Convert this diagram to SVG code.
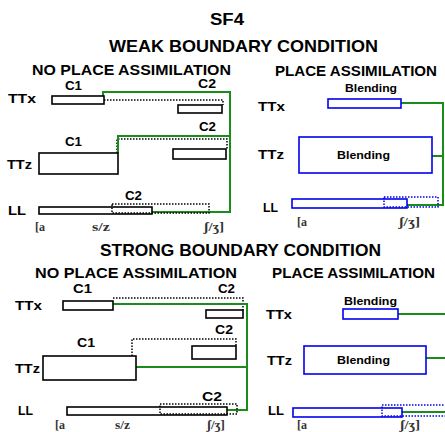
<svg xmlns="http://www.w3.org/2000/svg" width="445" height="432" viewBox="0 0 445 432">
<style>
text{font-family:"Liberation Sans",Arial,sans-serif;font-weight:bold;fill:#000}
.h1{font-size:16px}
.h2{font-size:17px}
.h3{font-size:14px}
.lb{font-size:12px}
.bl{font-size:11.5px}
.ph{font-family:"Liberation Serif","Times New Roman",serif;font-size:12px;fill:#333}
.bx{fill:#fff;stroke:#000;stroke-width:1.6}
.bb{fill:#fff;stroke:#0000ee;stroke-width:1.6}
.dot{fill:none;stroke:#000;stroke-width:1.5;stroke-dasharray:1.5 1.5}
.dotb{fill:none;stroke:#0000ee;stroke-width:1.5;stroke-dasharray:1.5 1.5}
.gr{fill:none;stroke:#1a8c1a;stroke-width:2}
</style>
<g id="titles">
<text class="h1" x="210" y="25" textLength="34" lengthAdjust="spacingAndGlyphs">SF4</text>
<text class="h2" x="109" y="52" textLength="269" lengthAdjust="spacingAndGlyphs">WEAK BOUNDARY CONDITION</text>
<text class="h2" x="100" y="256" textLength="281" lengthAdjust="spacingAndGlyphs">STRONG BOUNDARY CONDITION</text>
<text class="h3" x="32" y="75" textLength="199" lengthAdjust="spacingAndGlyphs">NO PLACE ASSIMILATION</text>
<text class="h3" x="275" y="75.5" textLength="162" lengthAdjust="spacingAndGlyphs">PLACE ASSIMILATION</text>
<text class="h3" x="35" y="278" textLength="202" lengthAdjust="spacingAndGlyphs">NO PLACE ASSIMILATION</text>
<text class="h3" x="272" y="278" textLength="163" lengthAdjust="spacingAndGlyphs">PLACE ASSIMILATION</text>
</g>
<g id="connectors">
<path class="dot" d="M104,100 H223 V105"/>
<path class="dot" d="M117,153 V139 H227 V149"/>
<path class="gr" d="M103,96 V92 H230 V212 H152"/>
<path class="gr" d="M118,153 V136 H230"/>
<path class="gr" d="M401,103 H443 V205 H407"/>
<path class="gr" d="M432,156 H443"/>
<path class="dot" d="M113,298 H243 V310"/>
<path class="dot" d="M132,356 V339 H236 V346"/>
<path class="gr" d="M113,304 H247 V410 H223"/>
<path class="gr" d="M136,367 H247"/>
<path class="gr" d="M398,314 H445"/>
<path class="gr" d="M426,358 H445"/>
<path class="gr" d="M402,412 H445"/>
</g>
<g id="wk-npa">
<text class="lb" x="8" y="103" textLength="28" lengthAdjust="spacingAndGlyphs">TTx</text>
<text class="lb" x="7" y="169" textLength="25" lengthAdjust="spacingAndGlyphs">TTz</text>
<text class="lb" x="8" y="215" textLength="18" lengthAdjust="spacingAndGlyphs">LL</text>
<text class="lb" x="65" y="90" textLength="17" lengthAdjust="spacingAndGlyphs">C1</text>
<text class="lb" x="198" y="88" textLength="18" lengthAdjust="spacingAndGlyphs">C2</text>
<text class="lb" x="199" y="131" textLength="17" lengthAdjust="spacingAndGlyphs">C2</text>
<text class="lb" x="65" y="146" textLength="17" lengthAdjust="spacingAndGlyphs">C1</text>
<text class="lb" x="125" y="200" textLength="17" lengthAdjust="spacingAndGlyphs">C2</text>
<rect id="wk-ttx-c1" class="bx" x="52" y="96" width="52" height="8"/>
<rect id="wk-ttx-c2" class="bx" x="178" y="105" width="44" height="8"/>
<rect id="wk-ttz-c1" class="bx" x="39" y="153" width="79" height="21"/>
<rect id="wk-ttz-c2" class="bx" x="173" y="149" width="53" height="10"/>
<rect id="wk-ll" class="bx" x="39" y="207" width="113" height="7"/>
<rect id="wk-ll-c2" class="dot" x="112" y="204" width="97" height="9"/>
<text class="ph" x="35" y="231">[a</text>
<text class="ph" x="92" y="231" textLength="18" lengthAdjust="spacingAndGlyphs">s/z</text>
<text class="ph" x="204" y="231" textLength="20" lengthAdjust="spacingAndGlyphs">ʃ/ʒ]</text>
</g>
<g id="wk-pa">
<text class="lb" x="258" y="111" textLength="27" lengthAdjust="spacingAndGlyphs">TTx</text>
<text class="lb" x="258" y="159" textLength="26" lengthAdjust="spacingAndGlyphs">TTz</text>
<text class="lb" x="263" y="212" textLength="15" lengthAdjust="spacingAndGlyphs">LL</text>
<text class="bl" x="345" y="92" textLength="52" lengthAdjust="spacingAndGlyphs">Blending</text>
<rect id="wk-pa-ttx" class="bb" x="328" y="99" width="73" height="9"/>
<rect id="wk-pa-ttz" class="bb" x="299" y="137" width="133" height="36"/>
<text class="bl" x="337" y="159" textLength="53" lengthAdjust="spacingAndGlyphs">Blending</text>
<rect id="wk-pa-ll" class="bb" x="292" y="199" width="115" height="9"/>
<rect class="dotb" x="384" y="197" width="54" height="10"/>
<text class="ph" x="297" y="226">[a</text>
<text class="ph" x="399" y="226" textLength="21" lengthAdjust="spacingAndGlyphs">ʃ/ʒ]</text>
</g>
<g id="st-npa">
<text class="lb" x="15" y="310" textLength="27" lengthAdjust="spacingAndGlyphs">TTx</text>
<text class="lb" x="15" y="373" textLength="25" lengthAdjust="spacingAndGlyphs">TTz</text>
<text class="lb" x="18" y="415" textLength="15" lengthAdjust="spacingAndGlyphs">LL</text>
<text class="lb" x="73" y="293" textLength="19" lengthAdjust="spacingAndGlyphs">C1</text>
<text class="lb" x="218" y="293" textLength="17" lengthAdjust="spacingAndGlyphs">C2</text>
<text class="lb" x="215" y="334" textLength="18" lengthAdjust="spacingAndGlyphs">C2</text>
<text class="lb" x="77" y="347" textLength="18" lengthAdjust="spacingAndGlyphs">C1</text>
<text class="lb" x="202" y="401" textLength="20" lengthAdjust="spacingAndGlyphs">C2</text>
<rect id="st-ttx-c1" class="bx" x="63" y="301" width="50" height="9"/>
<rect id="st-ttx-c2" class="bx" x="206" y="310" width="37" height="8"/>
<rect id="st-ttz-c1" class="bx" x="43" y="356" width="93" height="24"/>
<rect id="st-ttz-c2" class="bx" x="192" y="346" width="44" height="13"/>
<rect id="st-ll" class="bx" x="67" y="407" width="160" height="8"/>
<rect id="st-ll-c2" class="dot" x="160" y="404" width="77" height="10"/>
<text class="ph" x="55" y="429">[a</text>
<text class="ph" x="115" y="429" textLength="15" lengthAdjust="spacingAndGlyphs">s/z</text>
<text class="ph" x="207" y="429" textLength="18" lengthAdjust="spacingAndGlyphs">ʃ/ʒ]</text>
</g>
<g id="st-pa">
<text class="lb" x="266" y="319" textLength="26" lengthAdjust="spacingAndGlyphs">TTx</text>
<text class="lb" x="267" y="365" textLength="25" lengthAdjust="spacingAndGlyphs">TTz</text>
<text class="lb" x="268" y="415" textLength="16" lengthAdjust="spacingAndGlyphs">LL</text>
<text class="bl" x="344" y="305" textLength="53" lengthAdjust="spacingAndGlyphs">Blending</text>
<rect id="st-pa-ttx" class="bb" x="343" y="309" width="55" height="10"/>
<rect id="st-pa-ttz" class="bb" x="304" y="346" width="122" height="28"/>
<text class="bl" x="337" y="364" textLength="53" lengthAdjust="spacingAndGlyphs">Blending</text>
<rect id="st-pa-ll" class="bb" x="293" y="408" width="109" height="9"/>
<rect class="dotb" x="382" y="405" width="70" height="11"/>
<text class="ph" x="297" y="429">[a</text>
<text class="ph" x="400" y="429" textLength="20" lengthAdjust="spacingAndGlyphs">ʃ/ʒ]</text>
</g>
</svg>
